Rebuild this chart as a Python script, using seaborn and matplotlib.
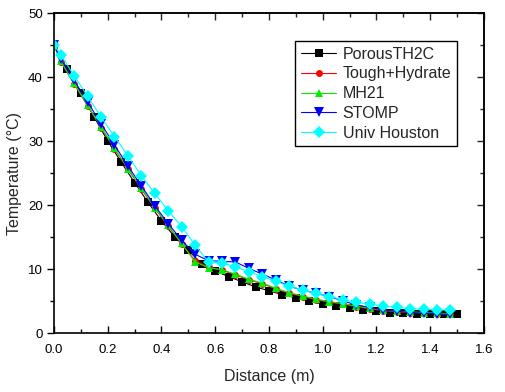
import numpy as np
import pandas as pd
import matplotlib
matplotlib.use('Agg')
import matplotlib.pyplot as plt
import seaborn as sns

# distances (m)
x_black = [0.0, 0.05, 0.10, 0.15, 0.20, 0.25, 0.30, 0.35, 0.40, 0.45, 0.50,
           0.55, 0.60, 0.65, 0.70, 0.75, 0.80, 0.85, 0.90, 0.95, 1.00,
           1.05, 1.10, 1.15, 1.20, 1.25, 1.30, 1.35, 1.40, 1.45, 1.50]
x_other = [0.0, 0.025, 0.075, 0.125, 0.175, 0.225, 0.275, 0.325, 0.375, 0.425,
           0.475, 0.525, 0.575, 0.625, 0.675, 0.725, 0.775, 0.825, 0.875,
           0.925, 0.975, 1.025, 1.075, 1.125, 1.175, 1.225, 1.275, 1.325,
           1.375, 1.425, 1.475]

porous = [45.0, 41.2, 37.5, 33.7, 30.0, 26.7, 23.5, 20.4, 17.5, 15.0, 12.9,
          10.8, 9.7, 8.8, 8.0, 7.2, 6.6, 6.0, 5.5, 5.0, 4.5,
          4.2, 3.9, 3.6, 3.4, 3.2, 3.1, 3.0, 2.9, 2.9, 2.9]
tough = [45.0, 42.4, 38.9, 35.5, 32.1, 28.8, 25.6, 22.5, 19.5, 16.7,
         13.9, 11.3, 10.3, 9.8, 9.1, 8.3, 7.7, 6.9, 6.2, 5.7,
         5.2, 4.8, 4.5, 4.1, 3.8, 3.5, 3.3, 3.2, 3.1, 3.0, 2.9]
mh21 = [45.0, 42.5, 39.0, 35.6, 32.2, 28.9, 25.7, 22.6, 19.6, 16.8,
        14.0, 11.1, 10.2, 9.9, 9.2, 8.4, 7.8, 7.0, 6.3, 5.8,
        5.3, 4.9, 4.6, 4.2, 3.9, 3.6, 3.4, 3.3, 3.2, 3.1, 3.0]
stomp = [45.0, 42.8, 39.5, 36.1, 32.7, 29.4, 26.1, 23.0, 19.9, 17.1,
         14.5, 12.3, 11.3, 11.2, 11.1, 10.1, 9.2, 8.3, 7.3, 6.7,
         6.2, 5.7, 5.0, 4.4, 4.0, 3.6, 3.4, 3.2, 3.1, 3.0, 2.9]
houston = [45.0, 43.5, 40.2, 37.0, 33.75, 30.7, 27.7, 24.6, 21.8, 19.1,
           16.6, 13.75, 11.1, 11.0, 10.3, 9.6, 8.8, 8.1, 7.3, 6.7,
           6.2, 5.7, 5.2, 4.8, 4.5, 4.2, 4.0, 3.8, 3.7, 3.6, 3.6]

sns.set_style('white')
plt.rcParams['font.family'] = ['Liberation Sans', 'DejaVu Sans']

fig = plt.figure(figsize=(5.06, 3.92), dpi=100)
ax = fig.add_axes([0.1067, 0.1505, 0.8498, 0.8163])

series = [
    ('PorousTH2C', x_black, porous, 'black', 's', 5.5),
    ('Tough+Hydrate', x_other, tough, 'red', 'o', 5),
    ('MH21', x_other, mh21, '#00ee00', '^', 6),
    ('STOMP', x_other, stomp, 'blue', 'v', 6.5),
    ('Univ Houston', x_other, houston, 'cyan', 'D', 6),
]
for name, xs, ys, col, mk, ms in series:
    df = pd.DataFrame({'Distance': xs, 'Temp': ys})
    sns.lineplot(data=df, x='Distance', y='Temp', color=col, marker=mk,
                 markersize=ms, markeredgewidth=0, linewidth=0.8,
                 sort=False, estimator=None, label=name, ax=ax)

ax.set_xlim(0, 1.6)
ax.set_ylim(0, 50)
ax.set_xticks(np.arange(0, 1.61, 0.2))
ax.set_xticks(np.arange(0, 1.61, 0.1), minor=True)
ax.set_yticks(np.arange(0, 51, 10))
ax.set_yticks(np.arange(0, 51, 5), minor=True)
ax.set_xticklabels(['%.1f' % v for v in np.arange(0, 1.61, 0.2)])
ax.set_xlabel('Distance (m)', fontsize=11.5, labelpad=9)
ax.set_ylabel('Temperature (°C)', fontsize=11.5, labelpad=4)

for s in ax.spines.values():
    s.set_color('black')
    s.set_linewidth(1.2)
ax.tick_params(axis='x', which='both', direction='in', bottom=True, colors='black',
               labelsize=9.5, pad=8)
ax.tick_params(axis='y', which='both', direction='out', left=True, colors='black',
               labelsize=9.5, pad=3)
ax.tick_params(which='major', length=5, width=1)
ax.tick_params(which='minor', length=3, width=1)

top = ax.secondary_xaxis('top')
top.set_xticks(np.arange(0, 1.61, 0.2))
top.set_xticks(np.arange(0, 1.61, 0.1), minor=True)
top.tick_params(which='both', direction='in', labeltop=False, width=1)
top.tick_params(which='major', length=5)
top.tick_params(which='minor', length=3)
right = ax.secondary_yaxis('right')
right.set_yticks(np.arange(0, 51, 10))
right.set_yticks(np.arange(0, 51, 5), minor=True)
right.tick_params(which='both', direction='in', labelright=False, width=1)
right.tick_params(which='major', length=5)
right.tick_params(which='minor', length=3)
for sec in (top, right):
    for s in sec.spines.values():
        s.set_linewidth(1.2)

leg = ax.legend(loc='upper right', bbox_to_anchor=(0.937, 0.9125), fontsize=11.5,
                frameon=True, fancybox=False, framealpha=1, edgecolor='black',
                handlelength=2.2, labelspacing=0.3, borderpad=0.35,
                handletextpad=0.4, borderaxespad=0)
leg.get_frame().set_linewidth(1)

fig.savefig('out.png', dpi=100)
